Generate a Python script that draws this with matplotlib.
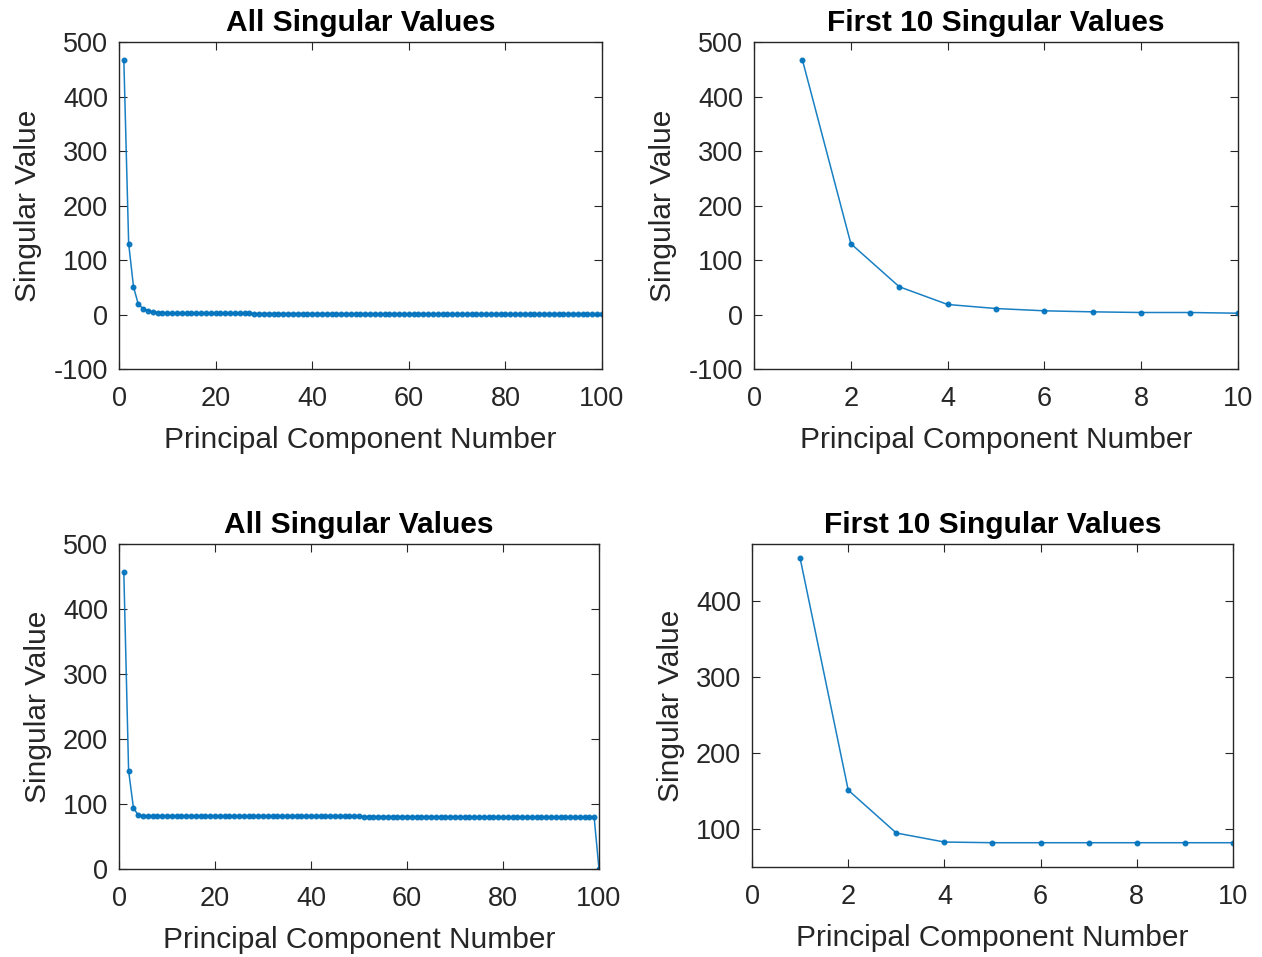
import matplotlib.pyplot as plt

plt.rcParams['font.family'] = ['Liberation Sans', 'DejaVu Sans']
plt.rcParams['axes.unicode_minus'] = False

# singular values, dataset 1 (top row)
sv_top = [467, 130, 51, 18.4, 11.0, 6.8, 4.9, 3.7, 3.7, 2.4,
          2.3, 2.3, 2.2, 2.2, 2.2, 2.1, 2.1, 2.1, 2.0, 2.0,
          2.0, 2.0, 1.9, 1.9, 1.9, 1.9, 1.9, 1.8, 1.8, 1.8,
          1.8, 1.8, 1.7, 1.7, 1.7, 1.7, 1.7, 1.7, 1.6, 1.6,
          1.6, 1.6, 1.6, 1.6, 1.5, 1.5, 1.5, 1.5, 1.5, 1.5,
          1.4, 1.4, 1.4, 1.4, 1.4, 1.4, 1.4, 1.3, 1.3, 1.3,
          1.3, 1.3, 1.3, 1.3, 1.2, 1.2, 1.2, 1.2, 1.2, 1.2,
          1.2, 1.1, 1.1, 1.1, 1.1, 1.1, 1.1, 1.1, 1.0, 1.0,
          1.0, 1.0, 1.0, 1.0, 1.0, 0.9, 0.9, 0.9, 0.9, 0.9,
          0.9, 0.8, 0.8, 0.8, 0.8, 0.8, 0.7, 0.7, 0.7, 0.6]

# singular values, dataset 2 (bottom row)
sv_bot = [457, 151, 94.4, 82.5, 81.6, 81.6, 81.6, 81.6, 81.6, 81.6,
          81.5, 81.5, 81.5, 81.5, 81.5, 81.4, 81.4, 81.4, 81.4, 81.4,
          81.3, 81.3, 81.3, 81.3, 81.3, 81.2, 81.2, 81.2, 81.2, 81.2,
          81.1, 81.1, 81.1, 81.1, 81.1, 81.0, 81.0, 81.0, 81.0, 81.0,
          80.9, 80.9, 80.9, 80.9, 80.9, 80.8, 80.8, 80.8, 80.8, 80.8,
          80.7, 80.7, 80.7, 80.7, 80.7, 80.6, 80.6, 80.6, 80.6, 80.6,
          80.5, 80.5, 80.5, 80.5, 80.5, 80.4, 80.4, 80.4, 80.4, 80.4,
          80.3, 80.3, 80.3, 80.3, 80.2, 80.2, 80.2, 80.2, 80.1, 80.1,
          80.1, 80.0, 80.0, 80.0, 79.9, 79.9, 79.9, 79.8, 79.8, 79.8,
          79.7, 79.7, 79.7, 79.6, 79.6, 79.5, 79.5, 79.4, 79.4, 0.5]

n_first = 10
blue = '#0072BD'
dark = '#262626'

fig = plt.figure(figsize=(12.62, 9.57), dpi=100)
positions = [
    [0.0943, 0.6144, 0.3827, 0.3417],
    [0.5975, 0.6144, 0.3835, 0.3417],
    [0.0943, 0.0920, 0.3803, 0.3396],
    [0.5959, 0.0940, 0.3811, 0.3375],
]


def style(ax):
    for s in ax.spines.values():
        s.set_color(dark)
        s.set_linewidth(1.0)
    ax.tick_params(direction='in', top=True, right=True, length=6,
                   labelsize=19.5, colors=dark)
    ax.tick_params(axis='x', pad=12)
    ax.tick_params(axis='y', pad=8)
    ax.set_xlabel('Principal Component Number', fontsize=21.5, color=dark,
                  labelpad=10)
    ax.set_ylabel('Singular Value', fontsize=21.5, color=dark, labelpad=8)


def draw(ax, vals, title):
    x = list(range(1, len(vals) + 1))
    ax.plot(x, vals, '-', color=blue, lw=1.1, marker='o', ms=3.3, alpha=0.9)
    ax.set_title(title, fontsize=21.5, fontweight='bold', pad=8)
    style(ax)


ax1 = fig.add_axes(positions[0])
draw(ax1, sv_top, 'All Singular Values')
ax1.set_xlim(0, 100)
ax1.set_ylim(-100, 500)
ax1.set_xticks(range(0, 101, 20))
ax1.set_yticks(range(-100, 501, 100))

ax2 = fig.add_axes(positions[1])
draw(ax2, sv_top[:n_first], 'First 10 Singular Values')
ax2.set_xlim(0, 10)
ax2.set_ylim(-100, 500)
ax2.set_xticks(range(0, 11, 2))
ax2.set_yticks(range(-100, 501, 100))

ax3 = fig.add_axes(positions[2])
draw(ax3, sv_bot, 'All Singular Values')
ax3.set_xlim(0, 100)
ax3.set_ylim(0, 500)
ax3.set_xticks(range(0, 101, 20))
ax3.set_yticks(range(0, 501, 100))

ax4 = fig.add_axes(positions[3])
draw(ax4, sv_bot[:n_first], 'First 10 Singular Values')
ax4.set_xlim(0, 10)
ax4.set_ylim(49.5, 475.7)
ax4.set_xticks(range(0, 11, 2))
ax4.set_yticks(range(100, 401, 100))

fig.savefig('out.png', dpi=100)
